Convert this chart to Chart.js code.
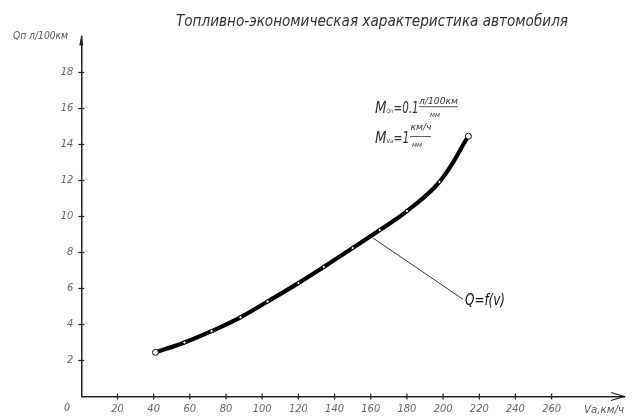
<!DOCTYPE html>
<html>
<head>
<meta charset="utf-8">
<script src="https://cdn.jsdelivr.net/npm/chart.js@4.4.1/dist/chart.umd.min.js"></script>
<style>
  html, body { margin: 0; padding: 0; background: #fff; }
  #wrap { width: 632px; height: 419px; }
</style>
</head>
<body>
<div id="wrap"><canvas id="canvas" width="632" height="419"></canvas></div>
<script>
// values
var speeds = [41, 57, 72, 88, 103, 120, 134, 150, 165, 180, 198, 214];
var consumption = [2.45, 3.0, 3.63, 4.4, 5.28, 6.3, 7.2, 8.25, 9.25, 10.3, 11.92, 14.46];
var xTickValues = [20, 40, 60, 80, 100, 120, 140, 160, 180, 200, 220, 240, 260];
var yTickValues = [2, 4, 6, 8, 10, 12, 14, 16, 18];

var titleText = 'Топливно-экономическая характеристика автомобиля';
var yAxisTitle = 'Qп л/100км';
var xAxisTitle = 'Vа,км/ч';
var curveLabel = 'Q=f(v)';
// leader line: point on curve -> label (data units)
var leaderFrom = [161.3, 8.8];
var leaderTo = [211, 5.4];

var FONT = '"Liberation Sans Narrow", "DejaVu Sans Condensed", sans-serif';

// draw text squeezed/stretched to a given width
function fitText(ctx, text, x, y, width, font, color) {
    ctx.save();
    ctx.font = font;
    ctx.fillStyle = color;
    ctx.textBaseline = 'alphabetic';
    var w = ctx.measureText(text).width;
    ctx.translate(x, y);
    ctx.scale(width / w, 1);
    ctx.fillText(text, 0, 0);
    ctx.restore();
}

var drawingPlugin = {
    id: 'drawing',
    afterDraw: function (chart) {
        var ctx = chart.ctx;
        var xs = chart.scales.x, ys = chart.scales.y;
        var x0 = xs.getPixelForValue(0), y0 = ys.getPixelForValue(0);
        var area = chart.chartArea;

        ctx.save();
        ctx.strokeStyle = '#222';
        ctx.fillStyle = '#222';
        ctx.lineWidth = 1.2;

        // tick marks crossing the axes
        xTickValues.forEach(function (v) {
            var px = xs.getPixelForValue(v);
            ctx.beginPath();
            ctx.moveTo(px, y0 - 3);
            ctx.lineTo(px, y0 + 3);
            ctx.stroke();
        });
        yTickValues.forEach(function (v) {
            var py = ys.getPixelForValue(v);
            ctx.beginPath();
            ctx.moveTo(x0 - 3, py);
            ctx.lineTo(x0 + 3, py);
            ctx.stroke();
        });

        // arrow on x axis (open)
        ctx.lineWidth = 1.3;
        ctx.beginPath();
        ctx.moveTo(area.right - 13, y0 - 4);
        ctx.lineTo(area.right, y0);
        ctx.lineTo(area.right - 13, y0 + 4);
        ctx.stroke();

        // arrow on y axis (narrow, filled)
        ctx.beginPath();
        ctx.moveTo(x0, area.top - 2);
        ctx.lineTo(x0 - 2, area.top + 9);
        ctx.lineTo(x0 + 2, area.top + 9);
        ctx.closePath();
        ctx.fill();

        // leader line to the curve label
        ctx.strokeStyle = '#333';
        ctx.lineWidth = 1;
        ctx.beginPath();
        ctx.moveTo(xs.getPixelForValue(leaderFrom[0]), ys.getPixelForValue(leaderFrom[1]));
        ctx.lineTo(xs.getPixelForValue(leaderTo[0]), ys.getPixelForValue(leaderTo[1]));
        ctx.stroke();
        ctx.restore();

        // texts
        fitText(ctx, titleText, 176, 25.5, 392, 'italic 16px ' + FONT, '#333');
        fitText(ctx, yAxisTitle, 13, 39, 55, 'italic 10px ' + FONT, '#555');
        fitText(ctx, xAxisTitle, 584, 413, 40, 'italic 10px ' + FONT, '#555');
        fitText(ctx, '0', 64, 411, 6, 'italic 11px ' + FONT, '#555');
        var lx = xs.getPixelForValue(leaderTo[0]) + 2, ly = ys.getPixelForValue(leaderTo[1]) + 6;
        fitText(ctx, curveLabel, lx, ly, 40, 'italic 15px ' + FONT, '#111');

        // scale notes
        var c = '#333';
        fitText(ctx, 'M', 375, 112.7, 11.5, 'italic 15px ' + FONT, c);
        fitText(ctx, 'Qп', 386.5, 113, 6.5, 'italic 6px ' + FONT, c);
        fitText(ctx, '=0.1', 393.5, 112.7, 25, 'italic 15px ' + FONT, c);
        fitText(ctx, 'л/100км', 419, 104, 39, 'italic 8px ' + FONT, c);
        fitText(ctx, 'мм', 430, 117, 10, 'italic 7px ' + FONT, c);
        fitText(ctx, 'M', 375, 142.7, 11.5, 'italic 15px ' + FONT, c);
        fitText(ctx, 'Vа', 386.5, 143, 6.5, 'italic 6px ' + FONT, c);
        fitText(ctx, '=1', 393.5, 142.7, 16, 'italic 15px ' + FONT, c);
        fitText(ctx, 'км/ч', 410.5, 130, 21, 'italic 8px ' + FONT, c);
        fitText(ctx, 'мм', 412, 146.5, 10, 'italic 7px ' + FONT, c);

        ctx.save();
        ctx.strokeStyle = '#333';
        ctx.lineWidth = 0.8;
        ctx.beginPath();
        ctx.moveTo(419, 106.7); ctx.lineTo(458, 106.7);
        ctx.moveTo(410, 136.5); ctx.lineTo(431, 136.5);
        ctx.stroke();
        ctx.restore();
    }
};

var points = speeds.map(function (v, i) { return { x: v, y: consumption[i] }; });
var radii = speeds.map(function (v, i) { return (i === 0 || i === speeds.length - 1) ? 3 : 1.6; });

var ctx = document.getElementById('canvas').getContext('2d');
var myChart = new Chart(ctx, {
    type: 'scatter',
    data: {
        datasets: [{
            data: points,
            showLine: true,
            borderColor: '#000',
            borderWidth: 4.2,
            tension: 0.4,
            pointRadius: radii,
            pointBackgroundColor: '#fff',
            pointBorderColor: '#000',
            pointBorderWidth: 1,
            clip: false
        }]
    },
    options: {
        responsive: false,
        animation: false,
        devicePixelRatio: 1,
        layout: { padding: { left: 0, top: 36.5, right: 8, bottom: 0 } },
        plugins: {
            legend: { display: false },
            tooltip: { enabled: false },
            title: { display: false }
        },
        scales: {
            x: {
                type: 'linear',
                min: 0,
                max: 300,
                afterFit: function (scale) { scale.height = 22.5; },
                grid: { display: false },
                border: { display: true, color: '#222', width: 1.5 },
                ticks: {
                    stepSize: 20,
                    autoSkip: false,
                    maxRotation: 0,
                    padding: -2,
                    color: '#666',
                    font: { family: FONT, size: 11, style: 'italic' },
                    callback: function (v) { return xTickValues.indexOf(v) >= 0 ? String(v) : ''; }
                }
            },
            y: {
                type: 'linear',
                min: 0,
                max: 20,
                afterFit: function (scale) { scale.width = 81.3; },
                grid: { display: false },
                border: { display: true, color: '#222', width: 1.5 },
                ticks: {
                    stepSize: 2,
                    autoSkip: false,
                    padding: 0,
                    color: '#666',
                    font: { family: FONT, size: 11, style: 'italic' },
                    callback: function (v) { return yTickValues.indexOf(v) >= 0 ? String(v) : ''; }
                }
            }
        }
    },
    plugins: [drawingPlugin]
});
</script>
</body>
</html>
